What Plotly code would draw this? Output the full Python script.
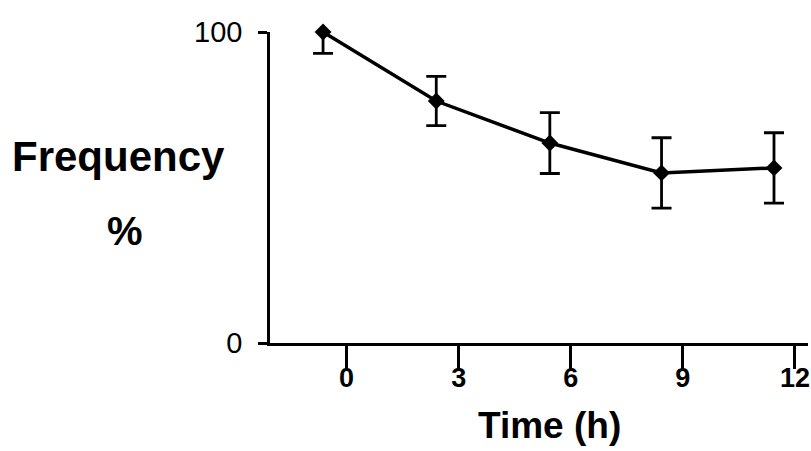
import plotly.graph_objects as go

# Data
time_h = [-0.63, 2.4, 5.44, 8.43, 11.44]
frequency = [100, 77.8, 64.3, 54.7, 56.3]
error = [6.9, 7.9, 9.8, 11.3, 11.3]
x_tickvals = [0, 3, 6, 9, 12]
y_tickvals = [0, 100]

fig = go.Figure()
fig.add_trace(go.Scatter(
    x=time_h, y=frequency,
    mode="lines+markers",
    line=dict(color="black", width=3.5),
    marker=dict(symbol="diamond", size=13, color="black"),
    error_y=dict(type="data", array=error, visible=True,
                 color="black", thickness=2.8, width=10),
    cliponaxis=False,
    showlegend=False,
))

fig.update_layout(
    width=811, height=451,
    margin=dict(l=270, r=3, t=32, b=108),
    paper_bgcolor="white", plot_bgcolor="white",
    xaxis=dict(range=[-2.05, 12.35], tickvals=x_tickvals,
               showline=True, linecolor="black", linewidth=2.5,
               ticks="outside", ticklen=23, tickwidth=2.5, tickcolor="black",
               showgrid=False, zeroline=False, ticklabelstandoff=-14,
               automargin=False, ticklabeloverflow="allow",
               tickfont=dict(family="Liberation Sans, Arial",
                             size=27, color="black", weight="bold")),
    yaxis=dict(range=[0, 100], tickvals=y_tickvals,
               showline=True, linecolor="black", linewidth=2.5,
               ticks="outside", ticklen=9, tickwidth=2.5, tickcolor="black",
               showgrid=False, zeroline=False, ticklabelstandoff=10,
               tickfont=dict(family="Liberation Sans, Arial", size=29, color="black")),
    annotations=[
        dict(text="<b>Frequency</b>", xref="paper", yref="paper",
             x=-0.2825, y=0.60, xanchor="center", yanchor="middle", showarrow=False,
             font=dict(family="Liberation Sans, Arial", size=42, color="black")),
        dict(text="<b>%</b>", xref="paper", yref="paper",
             x=-0.27, y=0.36, xanchor="center", yanchor="middle", showarrow=False,
             font=dict(family="Liberation Sans, Arial", size=40, color="black")),
        dict(text="<b>Time (h)</b>", xref="paper", yref="paper",
             x=0.52, y=-0.265, xanchor="center", yanchor="middle", showarrow=False,
             font=dict(family="Liberation Sans, Arial", size=37, color="black")),
    ],
)

fig.write_html("out.html")
